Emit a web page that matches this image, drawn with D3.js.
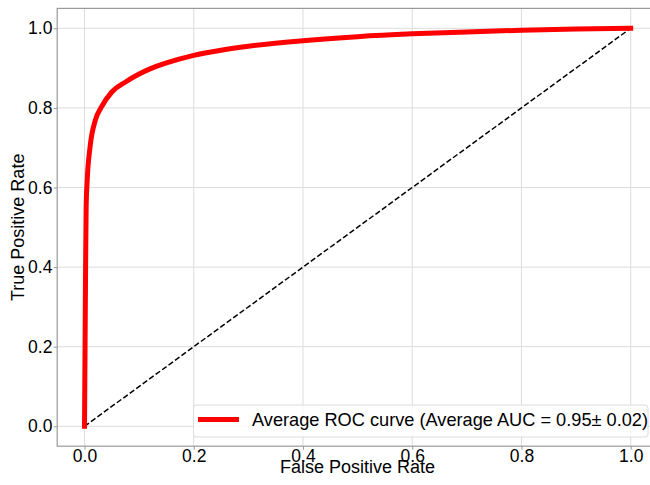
<!DOCTYPE html>
<html lang="en">
<head>
    <meta charset="UTF-8">
    <title>ROC curve</title>
    <script src="https://d3js.org/d3.v7.min.js"></script>
    <style>
        body { margin: 0; background: #fff; }
        svg { display: block; font-family: "Liberation Sans", Arial, sans-serif; }
    </style>
</head>
<body>
    <svg></svg>

    <script>
// mean ROC curve
const fpr = [0, 0.001, 0.002, 0.003, 0.005, 0.01, 0.02, 0.03, 0.05, 0.075, 0.1, 0.12, 0.15, 0.2, 0.25, 0.3, 0.4, 0.5, 0.6, 0.7, 0.8, 0.9, 1.0];
const tpr = [0, 0.2, 0.4, 0.55, 0.62, 0.70, 0.77, 0.80, 0.84, 0.865, 0.885, 0.898, 0.913, 0.932, 0.945, 0.955, 0.969, 0.979, 0.986, 0.991, 0.995, 0.998, 1.0];
const chanceLine = [[0, 0], [1, 1]];
const ticks = [0, 0.2, 0.4, 0.6, 0.8, 1.0];
const legendLabel = "Average ROC curve (Average AUC = 0.95\u00b1 0.02)";

const width = 650, height = 485;
const plotLeft = 57.2, plotRight = 658, plotTop = 8.4, plotBottom = 446.2;

const svg = d3.select("svg")
    .attr("width", width)
    .attr("height", height);

const x = d3.scaleLinear().domain([-0.05, 1.05]).range([plotLeft, plotRight]);
const y = d3.scaleLinear().domain([-0.05, 1.05]).range([plotBottom, plotTop]);

// grid
const grid = svg.append("g").attr("stroke", "#dcdcdc").attr("stroke-width", 1);
ticks.forEach(t => {
    grid.append("line")
        .attr("x1", x(t)).attr("x2", x(t))
        .attr("y1", plotTop).attr("y2", plotBottom);
    grid.append("line")
        .attr("x1", plotLeft).attr("x2", plotRight)
        .attr("y1", y(t)).attr("y2", y(t));
});

// axes
const xAxis = svg.append("g")
    .attr("transform", `translate(0,${plotBottom})`)
    .call(d3.axisBottom(x).tickValues(ticks).tickFormat(d3.format(".1f")).tickSize(3.5).tickPadding(0.3));
const yAxis = svg.append("g")
    .attr("transform", `translate(${plotLeft},0)`)
    .call(d3.axisLeft(y).tickValues(ticks).tickFormat(d3.format(".1f")).tickSize(3.5).tickPadding(1.3));

[xAxis, yAxis].forEach(g => {
    g.select(".domain").remove();
    g.selectAll(".tick line").attr("stroke", "#999");
    g.selectAll(".tick text")
        .attr("fill", "#000")
        .style("font-size", "17.5px")
        .style("font-family", "Liberation Sans, Arial, sans-serif");
});

// frame
svg.append("rect")
    .attr("x", plotLeft).attr("y", plotTop)
    .attr("width", plotRight - plotLeft).attr("height", plotBottom - plotTop)
    .attr("fill", "none")
    .attr("stroke", "#999")
    .attr("stroke-width", 1.2);

// chance line
svg.append("path")
    .datum(chanceLine)
    .attr("d", d3.line().x(d => x(d[0])).y(d => y(d[1])))
    .attr("fill", "none")
    .attr("stroke", "#000")
    .attr("stroke-width", 1.5)
    .attr("stroke-dasharray", "5.5,2.5");

// ROC curve
const rocData = fpr.map((f, i) => [f, tpr[i]]);
svg.append("path")
    .datum(rocData)
    .attr("d", d3.line().x(d => x(d[0])).y(d => y(d[1])).curve(d3.curveMonotoneX))
    .attr("fill", "none")
    .attr("stroke", "#ff0000")
    .attr("stroke-width", 5)
    .attr("stroke-linecap", "square");

// axis labels
svg.append("text")
    .attr("x", (plotLeft + plotRight) / 2)
    .attr("y", 473)
    .attr("text-anchor", "middle")
    .style("font-size", "18px")
    .text("False Positive Rate");
svg.append("text")
    .attr("transform", `translate(24,${(plotTop + plotBottom) / 2}) rotate(-90)`)
    .attr("text-anchor", "middle")
    .style("font-size", "18px")
    .text("True Positive Rate");

// legend
const legend = svg.append("g");
legend.append("rect")
    .attr("x", 193.5).attr("y", 405)
    .attr("width", 454.5).attr("height", 32)
    .attr("rx", 3)
    .attr("fill", "#fff")
    .attr("fill-opacity", 0.8)
    .attr("stroke", "#dcdcdc");
legend.append("line")
    .attr("x1", 198).attr("x2", 239)
    .attr("y1", 419.5).attr("y2", 419.5)
    .attr("stroke", "#ff0000")
    .attr("stroke-width", 5);
legend.append("text")
    .attr("x", 252)
    .attr("y", 426)
    .style("font-size", "18.2px")
    .text(legendLabel);
    </script>
</body>
</html>
